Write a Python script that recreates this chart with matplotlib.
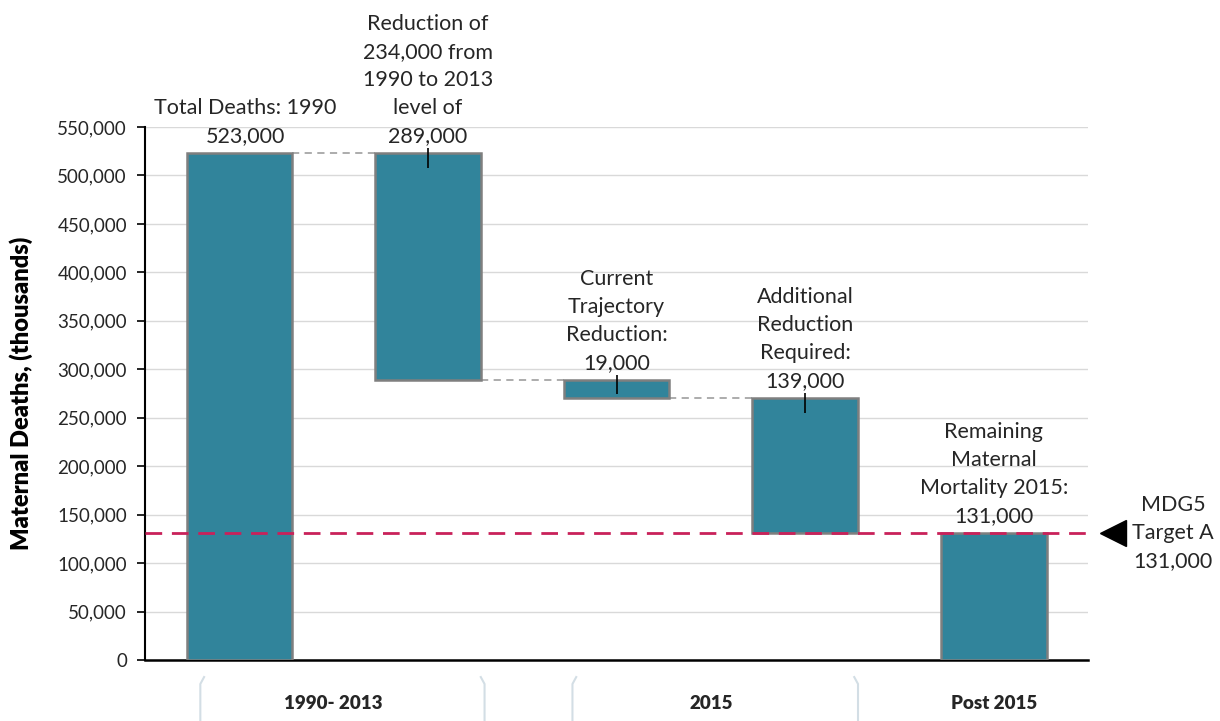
import numpy as np
import matplotlib.pyplot as plt
from matplotlib.ticker import FuncFormatter
from matplotlib.transforms import blended_transform_factory

plt.rcParams['font.family'] = ['Lato', 'DejaVu Sans']

# waterfall steps (bottom, top)
bottoms = [0, 289000, 270000, 131000, 0]
tops = [523000, 523000, 289000, 270000, 131000]
labels = ["Total Deaths: 1990\n523,000",
          "Reduction of\n234,000 from\n1990 to 2013\nlevel of\n289,000",
          "Current\nTrajectory\nReduction:\n19,000",
          "Additional\nReduction\nRequired:\n139,000",
          "Remaining\nMaternal\nMortality 2015:\n131,000"]
target = 131000
target_label = "MDG5\nTarget A\n131,000"
groups = ["1990- 2013", "2015", "Post 2015"]
group_pos = [0.5, 2.5, 4.0]
yticks = np.arange(0, 550001, 50000)

bar_color = "#31849b"
txt = "#262626"
fig = plt.figure(figsize=(12.2, 7.21), dpi=100)
ax = fig.add_axes([0.1189, 0.0846, 0.773, 0.7393])

x = np.arange(len(tops))
w = 0.56
heights = np.array(tops) - np.array(bottoms)
ax.bar(x, heights, bottom=bottoms, width=w, color=bar_color,
       edgecolor="#7f7f7f", linewidth=1.8, zorder=3)

# connectors between bars
for i in range(3):
    lvl = bottoms[i] if i > 0 else tops[i]
    ax.plot([x[i] + w / 2, x[i + 1] - w / 2], [lvl, lvl], color="#a6a6a6",
            lw=1.3, ls=(0, (4, 3)), zorder=2)

# small marks on the reduction bars
for i in range(1, 4):
    ax.vlines(x[i], tops[i] - 15000, tops[i] + 5000, color="black", lw=1.2, zorder=4)

for i in range(len(tops)):
    ax.annotate(labels[i], (x[i] + (0.03 if i == 0 else 0), tops[i]),
                xytext=(0, 5), textcoords="offset points", ha="center",
                va="bottom", fontsize=15.5, color=txt, linespacing=1.5)

ax.axhline(target, color="#c9215a", lw=2, ls=(0, (6, 3.5)), zorder=5)
ax.plot([4.63], [target], marker="<", ms=19, color="black", clip_on=False)
ax.text(4.95, target, target_label, ha="center", va="center", fontsize=15.5,
        color=txt, linespacing=1.5, clip_on=False)

ax.set_xlim(-0.5, 4.5)
ax.set_ylim(0, 550000)
ax.set_yticks(yticks)
ax.yaxis.set_major_formatter(FuncFormatter(lambda v, p: f"{int(v):,}"))
ax.tick_params(axis="y", labelsize=13.5, colors="black", labelcolor=txt,
               length=6, width=1.2, pad=7)
ax.tick_params(axis="x", length=0, labelbottom=False)
ax.grid(axis="y", color="#d9d9d9", lw=1, zorder=0)
for s in ["top", "right"]:
    ax.spines[s].set_visible(False)
ax.spines["left"].set_linewidth(1.5)
ax.spines["bottom"].set_linewidth(1.8)
ax.set_ylabel("Maternal Deaths, (thousands)", fontsize=17, fontweight="heavy",
              color="black")
ax.yaxis.set_label_coords(-0.119, 0.5)

# group labels with brackets under the axis
tr = blended_transform_factory(ax.transData, ax.transAxes)
for g, p in zip(groups, group_pos):
    ax.text(p, -0.082, g, transform=tr, ha="center", va="center",
            fontsize=13.5, fontweight="heavy", color=txt)
for a, b in [(-0.207, 1.30), (1.766, 3.28)]:
    for xe, d in [(a, 1), (b, -1)]:
        ax.plot([xe + d * 0.02, xe, xe], [-0.032, -0.045, -0.12], transform=tr,
                color="#d3dee5", lw=1.5, clip_on=False)

fig.savefig("out.png", dpi=100)
